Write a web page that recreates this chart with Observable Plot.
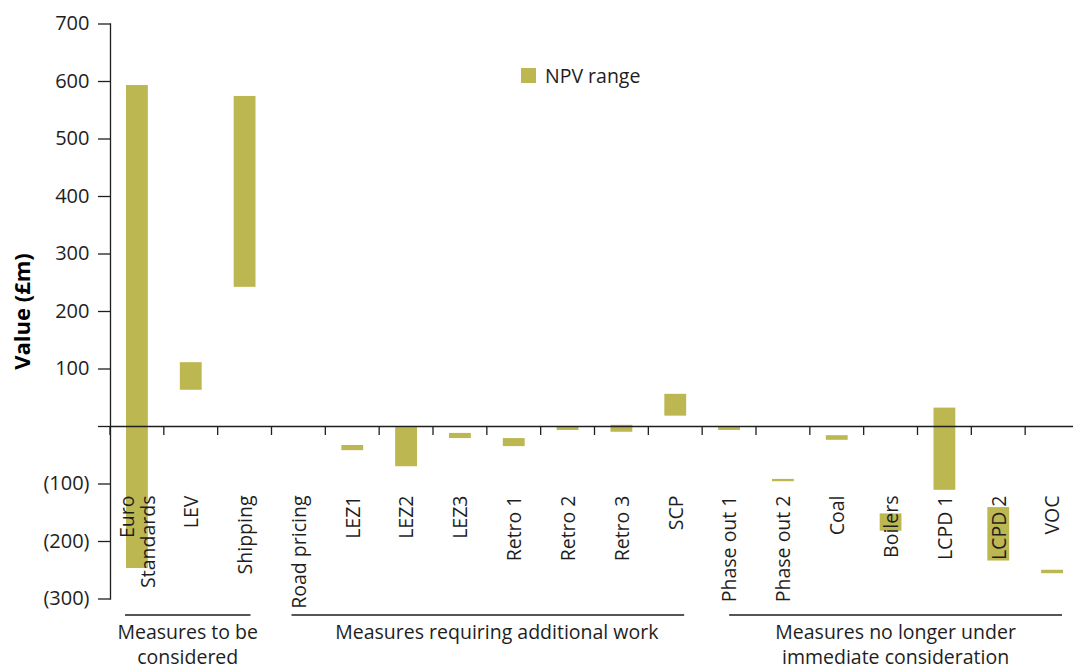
<!DOCTYPE html>
<html><head><meta charset="utf-8">
<script src="https://cdn.jsdelivr.net/npm/d3@7"></script>
<script src="https://cdn.jsdelivr.net/npm/@observablehq/plot@0.6"></script>
<style>body{margin:0;background:#fff;}</style>
</head><body><div id="chart"></div>
<script>
// ---- data ----
const categories = ["Euro\nStandards","LEV","Shipping","Road pricing","LEZ1","LEZ2","LEZ3","Retro 1","Retro 2","Retro 3","SCP","Phase out 1","Phase out 2","Coal","Boilers","LCPD 1","LCPD 2","VOC"];
const lowValues  = [-247, 63, 242, null, -42, -70, -21, -35, -7, -10, 18, -7, -96, -24, -182, -111, -234, -256];
const highValues = [ 593, 111, 574, null, -33,  -2, -12, -21, -1,   2, 56, -1, -92, -16, -152,   32, -141, -250];
const yTicks = [-300, -200, -100, 0, 100, 200, 300, 400, 500, 600, 700];
const groupNames = ["Measures to be\nconsidered", "Measures requiring additional work", "Measures no longer under\nimmediate consideration"];
const groupFirst = ["Euro\nStandards", "Road pricing", "Phase out 1"];
const groupLast  = ["Shipping", "SCP", "VOC"];
const seriesName = "NPV range";
const yTitle = "Value (£m)";

// ---- layout / style ----
const W = 1073, H = 666;
const COLOR = "#bdb752";
const INK = "#1e1e1e";
const FONT = "Open Sans";
const FS = 19.5;
const groupInsets = [[15, 21], [20, 18], [27, 17]];
const groupTextDx = [0, 9, 0];

const rows = categories.map((c, i) => ({cat: c, lo: lowValues[i], hi: highValues[i]}))
  .filter(d => d.lo != null && d.hi != null);

const chart = Plot.plot({
  width: W, height: H,
  marginLeft: 110, marginRight: 0, marginTop: 23.5, marginBottom: 67.5,
  style: {fontFamily: FONT, fontSize: FS + "px", color: INK, background: "#fff"},
  x: {type: "band", domain: categories, range: [110, 1079], padding: 0, round: false, axis: null},
  y: {domain: [-300, 700], axis: null},
  marks: [
    Plot.barY(rows, {x: "cat", y1: "lo", y2: "hi", fill: COLOR, insetLeft: 16, insetRight: 16}),
    Plot.ruleY([0], {stroke: INK, strokeWidth: 1.3}),
    Plot.frame({anchor: "left", stroke: INK, strokeWidth: 1.3}),
    Plot.axisY({ticks: yTicks, tickSize: 12, tickPadding: 9, stroke: INK, strokeWidth: 1.3,
      tickFormat: d => d === 0 ? "" : d < 0 ? `(${-d})` : `${d}`, fontSize: 20, fill: INK, label: null}),
    Plot.text([yTitle], {frameAnchor: "left", dx: -88, rotate: -90, textAnchor: "middle", lineAnchor: "middle", fontWeight: "bold", fontSize: 22, fill: "#000"}),
    Plot.text(categories, {x: d => d, y: () => 0, dy: 69, rotate: -90, textAnchor: "end", lineAnchor: "middle", lineHeight: 1.1, fontSize: FS, fill: INK})
  ]
});
document.getElementById("chart").appendChild(chart);

// ---- decorations drawn with the plot's own scales ----
const sx = chart.scale("x"), sy = chart.scale("y");
const bw = sx.bandwidth;
const svg = d3.select(chart);
const y0 = sy.apply(0);
const g = svg.append("g").attr("stroke", INK).attr("stroke-width", 1.3);
categories.forEach(c => {
  const x = sx.apply(c);
  g.append("line").attr("x1", x).attr("x2", x).attr("y1", y0).attr("y2", y0 + 9);
});

// group brackets + labels
groupNames.forEach((name, i) => {
  const xa = sx.apply(groupFirst[i]) + groupInsets[i][0];
  const xb = sx.apply(groupLast[i]) + bw - groupInsets[i][1];
  const ly = 615;
  svg.append("line").attr("x1", xa).attr("x2", xb).attr("y1", ly).attr("y2", ly)
    .attr("stroke", INK).attr("stroke-width", 1.3);
  const t = svg.append("text").attr("text-anchor", "middle").attr("fill", INK)
    .attr("font-family", FONT).attr("font-size", FS);
  name.split("\n").forEach((line, j) => {
    t.append("tspan").attr("x", (xa + xb) / 2 + groupTextDx[i]).attr("y", 639 + j * 24.5).text(line);
  });
});

// legend
const lg = svg.append("g").attr("transform", "translate(521,68)");
lg.append("rect").attr("width", 15).attr("height", 15).attr("fill", COLOR);
lg.append("text").attr("x", 24).attr("y", 14.5).attr("fill", INK).attr("text-anchor", "start")
  .attr("font-family", FONT).attr("font-size", FS).text(seriesName);
</script>
</body></html>
